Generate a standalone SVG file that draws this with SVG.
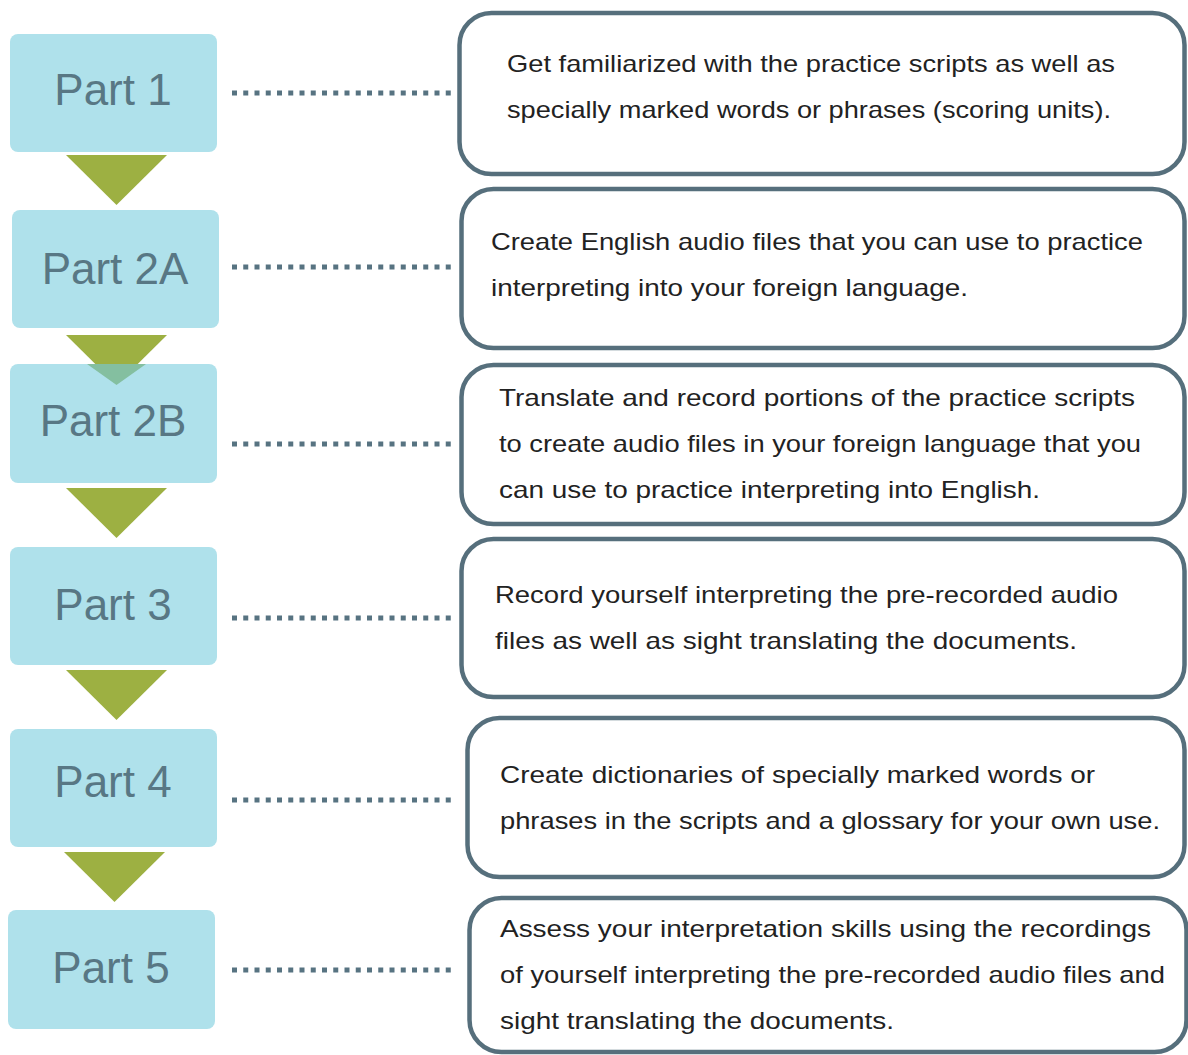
<svg xmlns="http://www.w3.org/2000/svg" width="1188" height="1055" viewBox="0 0 1188 1055">
<style>
.part rect{fill:#AFE1EB;}
.part text{font-family:"Liberation Sans",Arial,sans-serif;font-size:44px;fill:#587784;text-anchor:middle;}
.tri{fill:#9DB042;}
.dot{stroke:#577381;stroke-width:5;stroke-dasharray:5 6.25;fill:none;}
.desc rect{fill:#fff;stroke:#566F7C;stroke-width:4.5;}
.desc text{font-family:"Liberation Sans",Arial,sans-serif;font-size:24px;fill:#222;}
</style>
<rect width="1188" height="1055" fill="#fff"/>
<g id="connectors">
<polygon class="tri" points="66,155 167,155 116.5,205"/>
<polygon class="tri" points="66,335 167,335 116.5,385"/>
<polygon class="tri" points="66,488 167,488 116.5,538"/>
<polygon class="tri" points="66,670 167,670 116.5,720"/>
<polygon class="tri" points="64,852 165,852 114.5,902"/>
<line class="dot" x1="232" y1="93" x2="452" y2="93"/>
<line class="dot" x1="232" y1="267" x2="452" y2="267"/>
<line class="dot" x1="232" y1="444" x2="452" y2="444"/>
<line class="dot" x1="232" y1="618" x2="452" y2="618"/>
<line class="dot" x1="232" y1="800" x2="452" y2="800"/>
<line class="dot" x1="232" y1="970" x2="452" y2="970"/>
</g>
<g id="part1" class="part"><rect x="10" y="34" width="207" height="118" rx="8"/><text x="113" y="105">Part 1</text></g>
<g id="part2a" class="part"><rect x="12" y="210" width="207" height="118" rx="8"/><text x="115" y="284">Part 2A</text></g>
<g id="part2b" class="part"><rect x="10" y="364" width="207" height="119" rx="8"/><polygon points="87,364 146,364 116.5,385" fill="#84BFA0"/><text x="113" y="436">Part 2B</text></g>
<g id="part3" class="part"><rect x="10" y="547" width="207" height="118" rx="8"/><text x="113" y="620">Part 3</text></g>
<g id="part4" class="part"><rect x="10" y="729" width="207" height="118" rx="8"/><text x="113" y="797">Part 4</text></g>
<g id="part5" class="part"><rect x="8" y="910" width="207" height="119" rx="8"/><text x="111" y="983">Part 5</text></g>
<g id="desc1" class="desc"><rect x="459.5" y="13" width="725" height="161" rx="32"/>
<text x="507" y="72" textLength="608" lengthAdjust="spacingAndGlyphs">Get familiarized with the practice scripts as well as</text>
<text x="507" y="118" textLength="604" lengthAdjust="spacingAndGlyphs">specially marked words or phrases (scoring units).</text></g>
<g id="desc2a" class="desc"><rect x="461.5" y="189" width="723" height="159" rx="32"/>
<text x="491" y="250" textLength="652" lengthAdjust="spacingAndGlyphs">Create English audio files that you can use to practice</text>
<text x="491" y="296" textLength="477" lengthAdjust="spacingAndGlyphs">interpreting into your foreign language.</text></g>
<g id="desc2b" class="desc"><rect x="461.5" y="365" width="723" height="159" rx="32"/>
<text x="499" y="406" textLength="636" lengthAdjust="spacingAndGlyphs">Translate and record portions of the practice scripts</text>
<text x="499" y="452" textLength="642" lengthAdjust="spacingAndGlyphs">to create audio files in your foreign language that you</text>
<text x="499" y="498" textLength="541" lengthAdjust="spacingAndGlyphs">can use to practice interpreting into English.</text></g>
<g id="desc3" class="desc"><rect x="461.5" y="539" width="723" height="158" rx="32"/>
<text x="495" y="603" textLength="623" lengthAdjust="spacingAndGlyphs">Record yourself interpreting the pre-recorded audio</text>
<text x="495" y="649" textLength="582" lengthAdjust="spacingAndGlyphs">files as well as sight translating the documents.</text></g>
<g id="desc4" class="desc"><rect x="467.5" y="718" width="717" height="159" rx="32"/>
<text x="500" y="783" textLength="595" lengthAdjust="spacingAndGlyphs">Create dictionaries of specially marked words or</text>
<text x="500" y="829" textLength="660" lengthAdjust="spacingAndGlyphs">phrases in the scripts and a glossary for your own use.</text></g>
<g id="desc5" class="desc"><rect x="469.5" y="898" width="717" height="154" rx="32"/>
<text x="500" y="937" textLength="651" lengthAdjust="spacingAndGlyphs">Assess your interpretation skills using the recordings</text>
<text x="500" y="983" textLength="665" lengthAdjust="spacingAndGlyphs">of yourself interpreting the pre-recorded audio files and</text>
<text x="500" y="1029" textLength="394" lengthAdjust="spacingAndGlyphs">sight translating the documents.</text></g>
</svg>
